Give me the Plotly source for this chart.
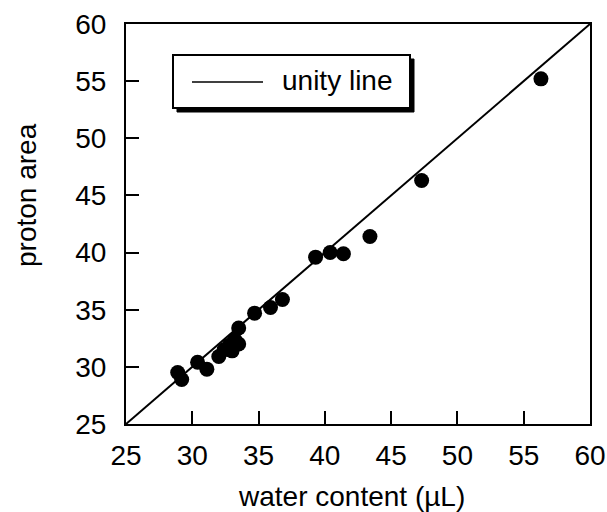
import plotly.graph_objects as go

# measured water content (µL) vs integrated proton area
water_content = [28.9, 29.2, 30.4, 31.1, 32.0, 32.4, 32.8, 33.0, 33.2, 33.5, 33.5,
                 34.7, 35.9, 36.8, 39.3, 40.4, 41.4, 43.4, 47.3, 56.3]
proton_area = [29.5, 28.9, 30.4, 29.8, 30.9, 31.5, 31.9, 31.4, 32.4, 32.0, 33.4,
               34.7, 35.2, 35.9, 39.6, 40.0, 39.9, 41.4, 46.3, 55.2]

axis_range = [25, 60]
tick_vals = [25, 30, 35, 40, 45, 50, 55, 60]

FONT = "Liberation Sans, Arial, Helvetica, sans-serif"
W, H = 607, 512
L, R, T, B = 126, 17, 24, 88
PW, PH = W - L - R, H - T - B


def px(xp):
    return (xp - L) / PW


def py(yp):
    return (H - B - yp) / PH


fig = go.Figure()

# unity line y = x across the full axis range
fig.add_trace(go.Scatter(
    x=axis_range, y=axis_range, mode="lines",
    line=dict(color="black", width=2), showlegend=False, hoverinfo="skip",
))

fig.add_trace(go.Scatter(
    x=water_content, y=proton_area, mode="markers",
    marker=dict(color="black", size=15, line=dict(width=0)),
    showlegend=False,
))

axis_common = dict(
    range=axis_range, tickvals=tick_vals, ticks="inside", ticklen=13,
    tickwidth=1.5, tickcolor="black", showline=True, linecolor="black",
    linewidth=2, mirror=True, showgrid=False, zeroline=False,
    automargin=False,
    tickfont=dict(family=FONT, size=28, color="black"),
)

fig.update_xaxes(**axis_common, ticklabelstandoff=5)
fig.update_yaxes(**axis_common, ticklabelstandoff=12)

# boxed key with a drop shadow
bx0, bx1, by0, by1 = px(173), px(410), py(108), py(55)
sx, sy = 4 / PW, 4 / PH
shapes = [
    dict(type="rect", xref="paper", yref="paper",
         x0=bx0 + sx, x1=bx1 + sx, y0=by0 - sy, y1=by1 - sy,
         fillcolor="black", line=dict(color="black", width=1)),
    dict(type="rect", xref="paper", yref="paper",
         x0=bx0, x1=bx1, y0=by0, y1=by1,
         fillcolor="white", line=dict(color="black", width=2)),
    dict(type="line", xref="paper", yref="paper",
         x0=px(192), x1=px(263), y0=py(82), y1=py(82),
         line=dict(color="black", width=1.5)),
]

annotations = [
    dict(text="unity line", xref="paper", yref="paper", x=px(280), y=py(80),
         xanchor="left", yanchor="middle", showarrow=False,
         font=dict(family=FONT, size=28, color="black")),
    dict(text="water content (µL)", xref="paper", yref="paper",
         x=px(351), y=py(496), xanchor="center", yanchor="middle",
         showarrow=False, font=dict(family=FONT, size=28, color="black")),
    dict(text="proton area", xref="paper", yref="paper",
         x=px(26), y=py(195), xanchor="center", yanchor="middle",
         textangle=-90, showarrow=False,
         font=dict(family=FONT, size=28, color="black")),
]

fig.update_layout(
    width=W, height=H,
    margin=dict(l=L, r=R, t=T, b=B, autoexpand=False),
    paper_bgcolor="white", plot_bgcolor="white",
    shapes=shapes, annotations=annotations,
    showlegend=False,
)

fig.write_html("out.html")
